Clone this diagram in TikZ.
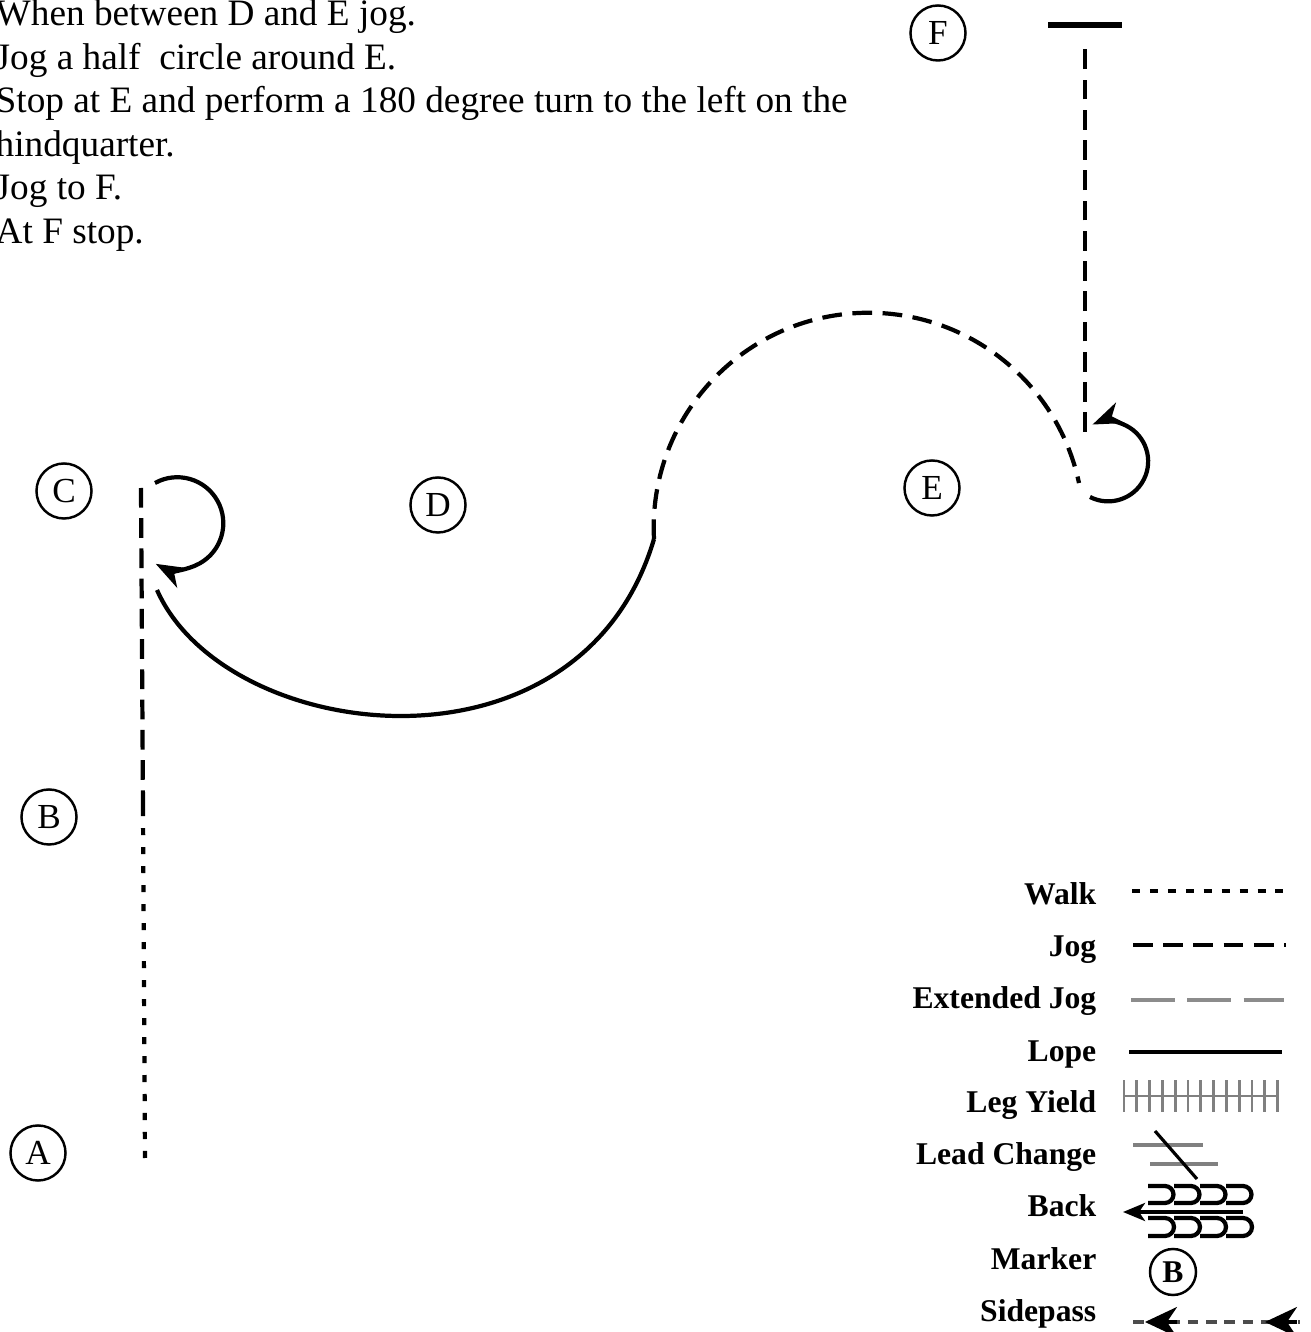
\documentclass[tikz,border=0pt]{standalone}
\usepackage{fontspec}
\setmainfont{Liberation Serif}
\usetikzlibrary{arrows.meta, positioning, calc}

\begin{document}
\begin{tikzpicture}[
    x=0.01cm, y=0.01cm,
    >=Stealth,
    marker/.style={draw, circle, line width=0.7pt, minimum size=0.55cm, inner sep=0pt, font=\fontsize{10}{12}\selectfont},
    walk/.style={line width=1.2pt, dash pattern=on 2pt off 3.4pt},
    jog/.style={line width=1.2pt, dash pattern=on 5.6pt off 3pt},
    extjog/.style={line width=0.9pt, black!45, dash pattern=on 12.5pt off 3.5pt},
    lope/.style={line width=1.2pt},
    turn/.style={line width=1.2pt, -{Stealth[length=0.3cm, width=0.22cm, inset=0.09cm]}},
    stopbar/.style={line width=1.5pt},
    legend/.style={anchor=base east, inner sep=0pt, font=\fontsize{9}{11}\selectfont\bfseries},
    yieldtick/.style={line width=0.8pt, black!50},
    cup/.style={line width=1.2pt},
    sidepass/.style={line width=0.9pt, black!70, dash pattern=on 3pt off 2.2pt},
    sidetip/.style={line width=0.9pt, -{Stealth[length=0.32cm, width=0.3cm, inset=0.1cm]}},
]

\useasboundingbox (0,0) rectangle (1311,1332);
\clip (0,0) rectangle (1311,1332);

% === PATTERN DIRECTIONS ===
\node[anchor=north west, align=left, inner sep=0pt, font=\fontsize{10.6}{12.4}\selectfont] (directions) at (-5,1333)
  {When between D and E jog.\\
   Jog a half~ circle around E.\\
   Stop at E and perform a 180 degree turn to the left on the\\
   hindquarter.\\
   Jog to F.\\
   At F stop.};

% === MARKERS ===
\node[marker] (mA) at (38,179) {A};
\node[marker] (mB) at (49,515) {B};
\node[marker] (mC) at (64,841) {C};
\node[marker] (mD) at (438,827) {D};
\node[marker] (mE) at (932,844) {E};
\node[marker] (mF) at (938,1299) {F};

% === A TO C: WALK, THEN JOG ===
\coordinate (walk_start) at (145,174);
\coordinate (walk_end) at (143,522);
\coordinate (jog_top) at (141,844);
\draw[walk] (walk_start) -- (walk_end);
\draw[jog] (walk_end) -- (jog_top);

% turn at C
\coordinate (turnC_start) at (155,849);
\draw[turn] (turnC_start) arc[start angle=119, end angle=-118, radius=46];

% === LOPE TO D, JOG HALF CIRCLE AROUND E ===
\coordinate (lope_start) at (157,742);
\coordinate (lope_end) at (654,793);
\draw[lope] (lope_start) .. controls (225,588) and (580,543) .. (lope_end);
\draw[jog] (lope_end) arc[start angle=183, end angle=12, radius=215];

% turn at E
\coordinate (turnE_start) at (1090,835);
\draw[turn] (turnE_start) arc[start angle=-117, end angle=113, radius=40];

% === JOG TO F AND STOP ===
\coordinate (jogF_start) at (1085,900);
\coordinate (jogF_end) at (1085,1292);
\coordinate (stop_left) at (1048,1307);
\coordinate (stop_right) at (1122,1307);
\draw[jog] (jogF_start) -- (jogF_end);
\draw[stopbar] (stop_left) -- (stop_right);

% === LEGEND ===
\node[legend] (lg_walk) at (1097,427) {Walk};
\node[legend] (lg_jog) at (1097,375) {Jog};
\node[legend] (lg_extjog) at (1097,323) {Extended Jog};
\node[legend] (lg_lope) at (1097,271) {Lope};
\node[legend] (lg_yield) at (1097,219) {Leg Yield};
\node[legend] (lg_lead) at (1097,167) {Lead Change};
\node[legend] (lg_back) at (1097,115) {Back};
\node[legend] (lg_marker) at (1097,63) {Marker};
\node[legend] (lg_side) at (1097,11) {Sidepass};

% gait samples
\draw[walk, line width=1.3pt, dash pattern=on 2.3pt off 2.8pt] (1132,441) -- (1283,441);
\draw[jog, line width=1.4pt] (1133,387) -- (1286,387);
\draw[extjog] (1131,332) -- (1284,332);
\draw[lope] (1129,280) -- (1282,280);

% leg yield
\draw[yieldtick, line width=0.6pt] (1124,236) -- (1279,236);
\foreach \i in {0,...,12}
    \draw[yieldtick] ({1124+\i*12.8},220) -- ++(0,32);

% lead change
\draw[yieldtick, line width=0.9pt] (1133,187) -- (1203,187);
\draw[yieldtick, line width=0.9pt] (1150,168) -- (1218,168);
\draw[line width=0.9pt] (1155,201) -- (1197,153);

% back
\draw[line width=1.3pt, -{Stealth[length=0.22cm, width=0.18cm, inset=0.06cm]}] (1243,120) -- (1123,120);
\foreach \x in {1148,1174,1200,1226} {
    \draw[cup] (\x,146) -- ++(17,0) arc[start angle=90, end angle=-90, radius=8.5] -- ++(-17,0);
    \draw[cup] (\x,114) -- ++(17,0) arc[start angle=90, end angle=-90, radius=9] -- ++(-17,0);
}

% marker
\node[marker, minimum size=0.46cm, font=\fontsize{9}{11}\selectfont\bfseries] (lg_B) at (1173,60) {B};

% sidepass
\coordinate (side_left) at (1133,10);
\coordinate (side_right) at (1300,10);
\draw[sidepass] (side_left) -- (side_right);
\draw[sidetip] (1297,10) -- (1265,10);
\draw[sidetip] (1177,10) -- (1145,10);

\end{tikzpicture}
\end{document}
